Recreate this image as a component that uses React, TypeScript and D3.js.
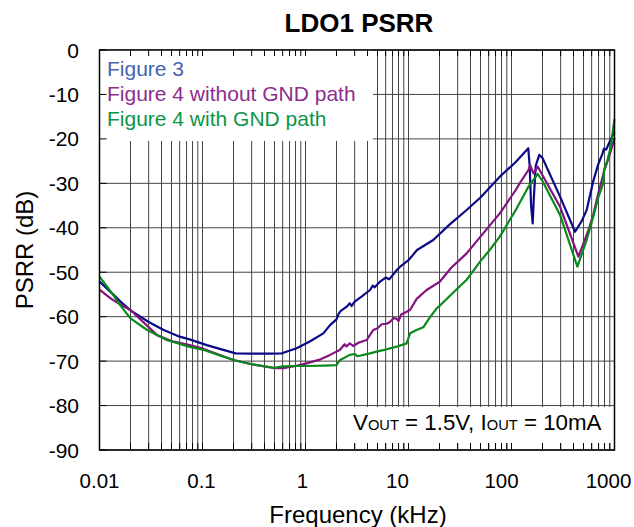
import React from "react";
import * as d3 from "d3";

const chartTitle = "LDO1 PSRR";
const xTickValues = [0.01, 0.1, 1, 10, 100, 1000];
const xTickLabels = ["0.01", "0.1", "1", "10", "100", "1000"];
const yTickValues = [0, -10, -20, -30, -40, -50, -60, -70, -80, -90];
const seriesNames = ["Figure 3", "Figure 4 without GND path", "Figure 4 with GND path"];

// [frequency kHz, PSRR dB]
const figure3: [number, number][] = [
  [0.01, -52.1], [0.013, -54.6], [0.016, -56.6], [0.02, -58.6], [0.03, -61.2], [0.042, -63],
  [0.06, -64.5], [0.075, -65.1], [0.11, -66.4], [0.15, -67.3], [0.21, -68.25], [0.3, -68.3],
  [0.45, -68.3], [0.59, -68.25], [0.82, -67.1], [1.1, -65.6], [1.49, -63.75], [1.73, -61.9],
  [2.0, -60.6], [2.1, -59.3], [2.2, -58.7], [2.5, -57.8], [2.69, -57], [2.8, -57.6], [3.0, -56.6],
  [3.5, -55.5], [4.23, -54], [4.5, -53], [4.7, -53.4], [5.3, -52.1], [6.0, -51.2], [6.5, -51.6],
  [7.7, -49.5], [8.3, -48.75], [10, -47.3], [12.1, -45], [17.4, -42.75], [25, -39.3], [36.7, -36],
  [50, -33.2], [77, -28.5], [110, -25.2], [145.6, -22.1], [150, -26], [155, -35], [160.6, -39],
  [165, -33], [172, -26], [186, -23.6], [200, -24.3], [296, -33], [414, -40.9], [480, -38.5],
  [537, -36], [622, -29.5], [700, -25.5], [760, -23.5], [790, -22.2], [830, -22.4], [900, -20.6],
  [1000, -18.4],
];

const figure4NoGnd: [number, number][] = [
  [0.01, -53.9], [0.013, -56], [0.016, -57.3], [0.02, -58.5], [0.036, -64.1], [0.05, -65.5],
  [0.075, -66.4], [0.101, -67.2], [0.15, -68.7], [0.2, -69.75], [0.3, -70.7], [0.5, -71.6],
  [0.61, -71.6], [0.8, -71.1], [1.02, -70.5], [1.4, -69.6], [1.73, -68.6], [2.15, -67.5],
  [2.4, -66.2], [2.5, -66.7], [2.69, -66], [2.9, -66.6], [3.3, -65.8], [3.93, -65.25], [4.2, -64.2],
  [4.55, -63], [5, -62.6], [5.5, -61.7], [6.14, -61.6], [6.6, -61.2], [7.2, -60.3], [7.68, -60.5],
  [8.0, -61], [8.5, -59.5], [10.35, -58.5], [12, -56], [15, -54], [20.2, -52.1], [26, -49],
  [36.7, -45.75], [50, -42], [77, -36.75], [110, -31.5], [120, -30], [146, -27], [152, -25.9],
  [163, -27.75], [180, -26.25], [296, -35.25], [446, -46.5], [500, -43.5], [560, -40.5],
  [622, -37], [700, -32], [800, -27], [900, -23.5], [1000, -19.8],
];

const figure4Gnd: [number, number][] = [
  [0.01, -51], [0.013, -54.5], [0.016, -57.5], [0.02, -60.4], [0.029, -63], [0.045, -65.25],
  [0.075, -66.8], [0.1, -67.4], [0.15, -68.8], [0.2, -69.75], [0.3, -70.7], [0.5, -71.5],
  [0.6, -71.2], [0.8, -71.1], [1.0, -71.1], [1.5, -71.0], [2.0, -70.9], [2.15, -69.8],
  [2.69, -68.6], [3.0, -68.4], [3.2, -68.9], [4.23, -68.25], [5.0, -67.8], [6, -67.4],
  [7.68, -66.75], [9.6, -66], [10.35, -63.75], [12, -63], [13.9, -62.4], [16.2, -60.1],
  [18.8, -58.1], [20.2, -57.5], [26, -55], [36.7, -51.7], [50, -47.5], [61.5, -45], [77, -42],
  [110, -36], [146, -30.75], [160, -29.5], [180, -27.9], [200, -29.5], [296, -37.1],
  [436, -48.75], [480, -46], [537, -42.75], [622, -37.5], [700, -33], [778, -30], [790, -27],
  [850, -25], [920, -21.75], [1000, -15.5],
];

const annotationParts = ["V", "OUT", " = 1.5V, I", "OUT", " = 10mA"];

const W = 634;
const H = 527;
const L = 99.5;
const R = 614.5;
const T = 50;
const B = 450;
const FONT = "'Liberation Sans', Arial, sans-serif";
// horizontal nudges of the x tick labels (layout only)
const xLabelNudge = [0, -1, -3, -11, -10, -6];

export default function App() {
  const x = d3.scaleLog().domain([0.01, 1000]).range([L, R]);
  const y = d3.scaleLinear().domain([-90, 0]).range([B, T]);

  const gridX: number[] = [];
  for (let e = -2; e < 3; e++) {
    for (let m = 1; m < 10; m++) gridX.push(m * Math.pow(10, e));
  }
  gridX.push(1000);

  const line = d3
    .line<[number, number]>()
    .x((d) => x(d[0]))
    .y((d) => y(d[1]))
    .curve(d3.curveLinear);

  const series = [
    { name: seriesNames[0], data: figure3, stroke: "#0a0a86", text: "#4664b2" },
    { name: seriesNames[1], data: figure4NoGnd, stroke: "#84127f", text: "#8c2e8e" },
    { name: seriesNames[2], data: figure4Gnd, stroke: "#0b8a1c", text: "#0c9548" },
  ];

  const gridColor = "#454545";
  const tickLen = 6;

  const legendBox = { x0: L, x1: 373, y0: T, y1: 141 };
  const annBox = { x0: 346, x1: R, y0: 407, y1: 443 };

  return (
    <div style={{ position: "absolute", left: 0, top: 0 }}>
      <svg width={W} height={H} style={{ display: "block", background: "#fff" }}>
        <rect x={0} y={0} width={W} height={H} fill="#fff" />
        {gridX.map((v, i) => (
          <line key={"gx" + i} x1={x(v)} x2={x(v)} y1={T} y2={B} stroke={gridColor} strokeWidth={1} />
        ))}
        {yTickValues.map((v, i) => (
          <line key={"gy" + i} x1={L} x2={R} y1={y(v)} y2={y(v)} stroke={gridColor} strokeWidth={1} />
        ))}
        <rect x={legendBox.x0} y={legendBox.y0} width={legendBox.x1 - legendBox.x0} height={legendBox.y1 - legendBox.y0} fill="#fff" />
        <rect x={annBox.x0} y={annBox.y0} width={annBox.x1 - annBox.x0} height={annBox.y1 - annBox.y0} fill="#fff" />
        {gridX.map((v, i) => (
          <g key={"tx" + i}>
            <line x1={x(v)} x2={x(v)} y1={T} y2={T + tickLen} stroke="#000" strokeWidth={1} />
            <line x1={x(v)} x2={x(v)} y1={B} y2={B - tickLen - 1} stroke="#000" strokeWidth={1} />
          </g>
        ))}
        {yTickValues.map((v, i) => (
          <line key={"ty" + i} x1={L} x2={L + tickLen + 1} y1={y(v)} y2={y(v)} stroke="#000" strokeWidth={1} />
        ))}
        {series.map((s, i) => (
          <path key={"s" + i} d={line(s.data) || ""} fill="none" stroke={s.stroke} strokeWidth={2.2} strokeLinejoin="round" />
        ))}
        <rect x={L} y={T} width={R - L} height={B - T} fill="none" stroke="#000" strokeWidth={1.5} />
        {series.map((s, i) => (
          <text key={"lg" + i} x={107} y={75.5 + i * 25.3} fill={s.text} fontFamily={FONT} fontSize={21}>
            {s.name}
          </text>
        ))}
        <text x={353} y={430} fontFamily={FONT} fontSize={22.3} fill="#000">
          {annotationParts.map((p, i) => (
            <tspan key={i} fontSize={i % 2 === 1 ? 14.7 : 22.3}>{p}</tspan>
          ))}
        </text>
        {yTickValues.map((v, i) => (
          <text key={"yl" + i} x={79} y={y(v) + 7.5} textAnchor="end" fontFamily={FONT} fontSize={21} fill="#000">
            {v}
          </text>
        ))}
        {xTickValues.map((v, i) => (
          <text key={"xl" + i} x={x(v) + xLabelNudge[i]} y={488} textAnchor="middle" fontFamily={FONT} fontSize={20.5} fill="#000">
            {xTickLabels[i]}
          </text>
        ))}
        <text x={359} y={32} textAnchor="middle" fontFamily={FONT} fontSize={26} fontWeight="bold" fill="#000">
          {chartTitle}
        </text>
        <text x={358} y={523} textAnchor="middle" fontFamily={FONT} fontSize={24} fill="#000">
          Frequency (kHz)
        </text>
        <text transform="translate(33,250) rotate(-90)" textAnchor="middle" fontFamily={FONT} fontSize={24} fill="#000">
          PSRR (dB)
        </text>
      </svg>
    </div>
  );
}
